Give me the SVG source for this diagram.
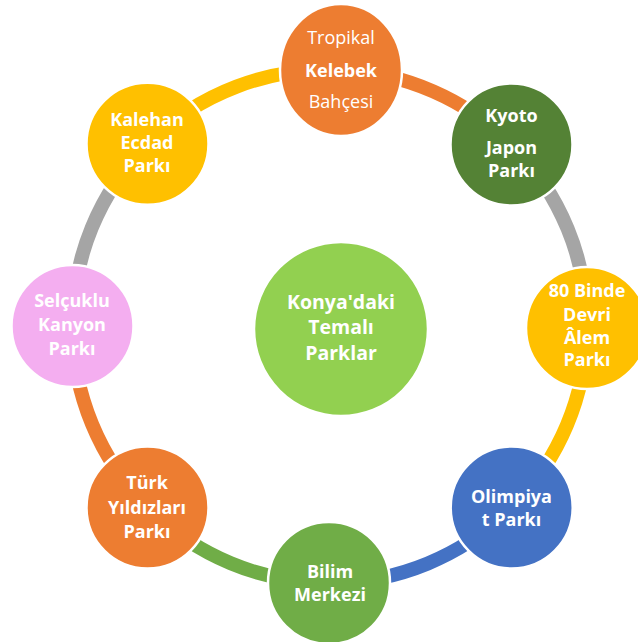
<svg xmlns="http://www.w3.org/2000/svg" width="638" height="642" viewBox="0 0 638 642">
<style>
.arc{fill:none;stroke-width:14}
.node{stroke:#fff;stroke-width:2.5}
text{font-family:"Open Sans","Noto Sans","DejaVu Sans",sans-serif;fill:#fff;text-anchor:middle;font-size:18px;font-weight:bold}
.reg{font-weight:normal}
.big{font-size:19.5px}
</style>
<rect width="638" height="642" fill="#fff"/>
<g id="connectors">
<path class="arc" stroke="#ED7D31" d="M341 70 A258 258 0 0 1 511.5 144.5"/>
<path class="arc" stroke="#A5A5A5" d="M511.5 144.5 A258 258 0 0 1 587 328"/>
<path class="arc" stroke="#FFC000" d="M587 328 A258 258 0 0 1 511.7 507.5"/>
<path class="arc" stroke="#4472C4" d="M511.7 507.5 A258 258 0 0 1 329 583"/>
<path class="arc" stroke="#70AD47" d="M329 583 A258 258 0 0 1 147.5 507.5"/>
<path class="arc" stroke="#ED7D31" d="M147.5 507.5 A258 258 0 0 1 72.5 326"/>
<path class="arc" stroke="#A5A5A5" d="M72.5 326 A258 258 0 0 1 147.5 143.7"/>
<path class="arc" stroke="#FFC000" d="M147.5 143.7 A258 258 0 0 1 341 70"/>
</g>
<g id="center">
<circle class="node" cx="341" cy="329" r="87" fill="#92D050"/>
<text class="big" x="341" y="309">Konya'daki</text>
<text class="big" x="341" y="334">Temalı</text>
<text class="big" x="341" y="360">Parklar</text>
</g>
<g id="tropikal">
<ellipse class="node" cx="341" cy="70" rx="61" ry="66" fill="#ED7D31"/>
<text class="reg" x="341" y="44">Tropikal</text>
<text x="341" y="77">Kelebek</text>
<text class="reg" x="341" y="108">Bahçesi</text>
</g>
<g id="kyoto">
<circle class="node" cx="511.5" cy="144.5" r="61" fill="#548235"/>
<text x="511.5" y="122">Kyoto</text>
<text x="511.5" y="154">Japon</text>
<text x="511.5" y="177">Parkı</text>
</g>
<g id="binde">
<circle class="node" cx="587" cy="328" r="61" fill="#FFC000"/>
<text x="587" y="297">80 Binde</text>
<text x="587" y="321">Devri</text>
<text x="587" y="344">Âlem</text>
<text x="587" y="366">Parkı</text>
</g>
<g id="olimpiyat">
<circle class="node" cx="511.7" cy="507.5" r="61" fill="#4472C4"/>
<text x="511.5" y="503">Olimpiya</text>
<text x="511.5" y="526">t Parkı</text>
</g>
<g id="bilim">
<circle class="node" cx="329" cy="583" r="61" fill="#70AD47"/>
<text x="330" y="578">Bilim</text>
<text x="330" y="601">Merkezi</text>
</g>
<g id="turk">
<circle class="node" cx="147.5" cy="507.5" r="61" fill="#ED7D31"/>
<text x="147" y="489">Türk</text>
<text x="147" y="514">Yıldızları</text>
<text x="147" y="538">Parkı</text>
</g>
<g id="selcuklu">
<circle class="node" cx="72.5" cy="326" r="61" fill="#F4AEF0"/>
<text x="72" y="307">Selçuklu</text>
<text x="72" y="331">Kanyon</text>
<text x="72" y="355">Parkı</text>
</g>
<g id="kalehan">
<circle class="node" cx="147.5" cy="143.7" r="61" fill="#FFC000"/>
<text x="147" y="126">Kalehan</text>
<text x="147" y="149">Ecdad</text>
<text x="147" y="172">Parkı</text>
</g>
</svg>
